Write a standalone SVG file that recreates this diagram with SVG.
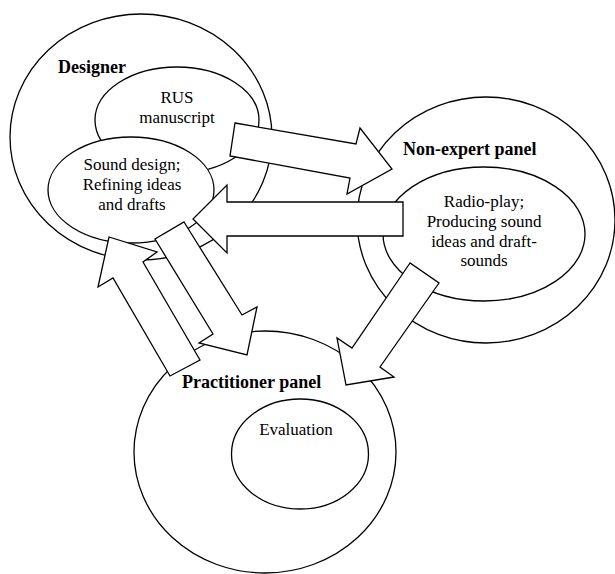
<svg xmlns="http://www.w3.org/2000/svg" width="615" height="574" viewBox="0 0 615 574">
<style>
.e{fill:#fff;stroke:#000;stroke-width:1.3}
.a{fill:#fff;stroke:#000;stroke-width:1.3;stroke-linejoin:miter}
.t{font-size:17px;fill:#000;text-anchor:middle}
.b{font-size:18px;font-weight:bold;fill:#000}
</style>
<rect width="615" height="574" fill="#fff"/>
<g font-family="Liberation Serif">
<g id="designer">
<ellipse class="e" cx="141" cy="137" rx="131" ry="123"/>
<text class="b" x="58" y="73" font-family="Liberation Serif">Designer</text>
</g>
<g id="rus-manuscript">
<ellipse class="e" cx="177" cy="120" rx="82" ry="53"/>
<text class="t" x="177" y="103" font-family="Liberation Serif">RUS</text>
<text class="t" x="177" y="123" font-family="Liberation Serif">manuscript</text>
</g>
<g id="sound-design">
<ellipse class="e" cx="131" cy="190" rx="83" ry="53"/>
<text class="t" x="132" y="170" font-family="Liberation Serif">Sound design;</text>
<text class="t" x="132" y="190" font-family="Liberation Serif">Refining ideas</text>
<text class="t" x="132" y="210" font-family="Liberation Serif">and drafts</text>
</g>
<g id="non-expert-panel">
<ellipse class="e" cx="486" cy="220" rx="129" ry="123"/>
<text class="b" x="403" y="155" font-family="Liberation Serif">Non-expert panel</text>
</g>
<g id="radio-play">
<ellipse class="e" cx="484" cy="234" rx="101" ry="67"/>
<text class="t" x="484" y="207" font-family="Liberation Serif">Radio-play;</text>
<text class="t" x="484" y="227" font-family="Liberation Serif">Producing sound</text>
<text class="t" x="484" y="247" font-family="Liberation Serif">ideas and draft-</text>
<text class="t" x="484" y="266" font-family="Liberation Serif">sounds</text>
</g>
<g id="practitioner-panel">
<ellipse class="e" cx="265" cy="452" rx="131" ry="121"/>
<text class="b" x="182" y="388" font-family="Liberation Serif">Practitioner panel</text>
</g>
<g id="evaluation">
<ellipse class="e" cx="300" cy="454" rx="68.5" ry="55"/>
<text class="t" x="296" y="435" font-family="Liberation Serif">Evaluation</text>
</g>
</g>
<g id="connectors">
<polygon class="a" points="235,123 356,144 360,128 392,169 347,194 350,178 230,156"/>
<polygon class="a" points="403,202 227,202 227,185 193,219 227,253 227,236 403,236"/>
<polygon class="a" points="184,222 242,315 257,307 247,355 199,343 213,334 155,239"/>
<polygon class="a" points="200,360 143,262 157,252 109,237 98,287 113,278 170,376"/>
<polygon class="a" points="410,263 352,348 337,338 346,385 394,377 380,367 439,283"/>
</g>
</svg>
